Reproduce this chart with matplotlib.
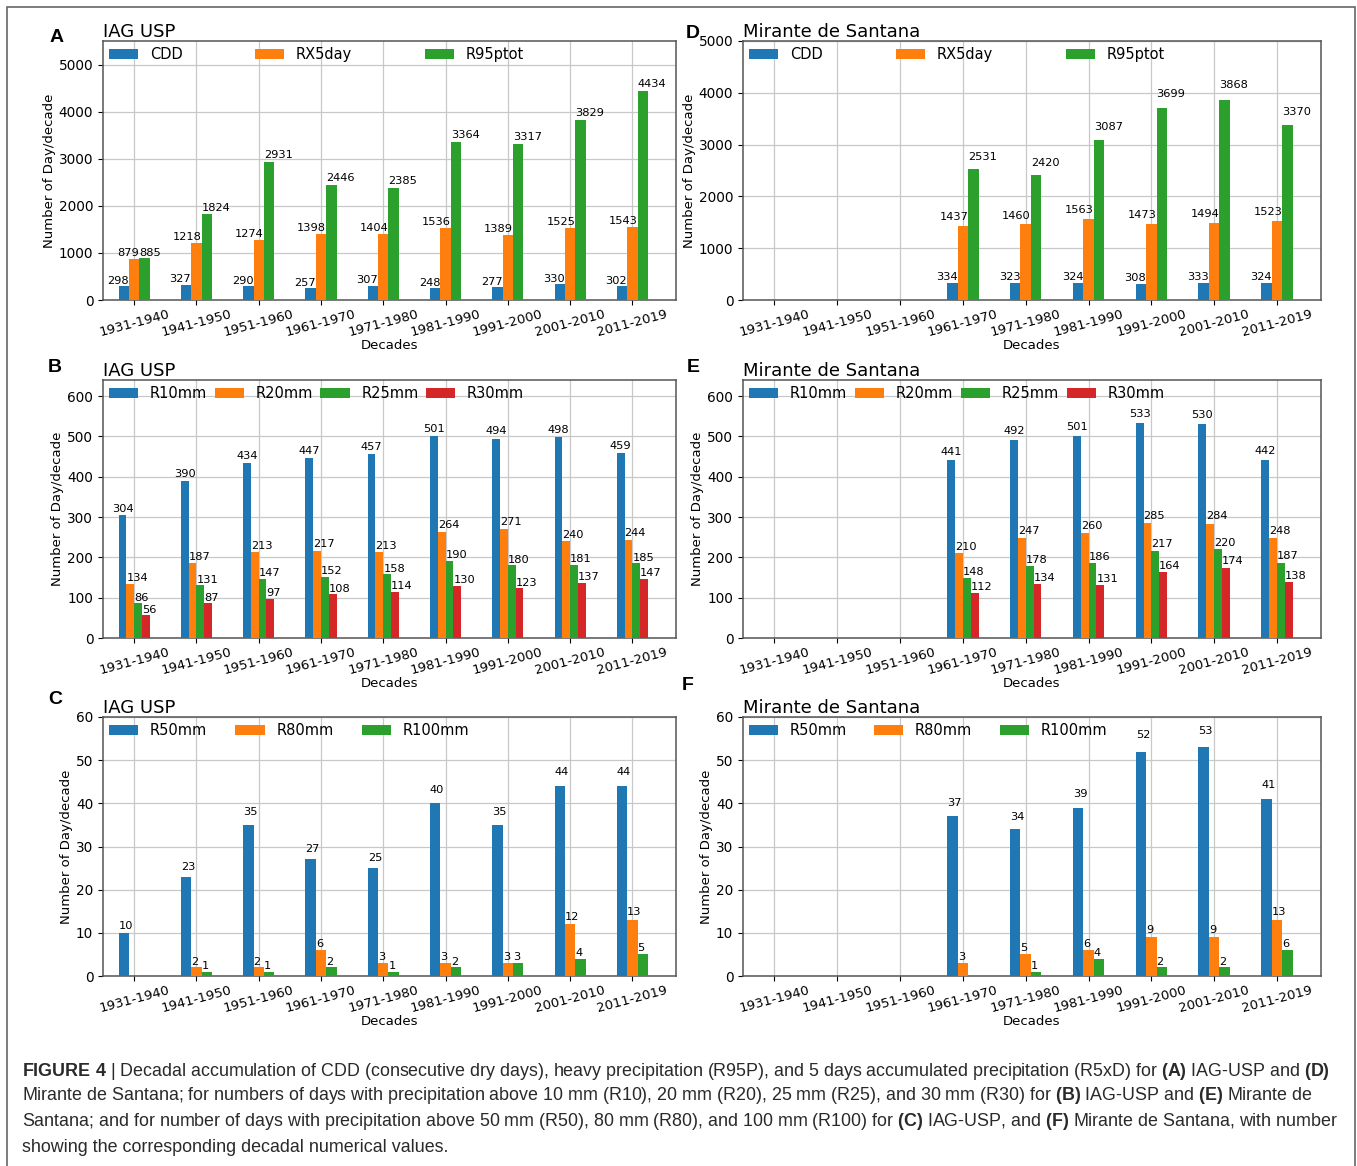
import numpy as np
import matplotlib
matplotlib.use("Agg")
import matplotlib.pyplot as plt
from matplotlib.patches import Rectangle

nan = np.nan

decades = ["1931-1940", "1941-1950", "1951-1960", "1961-1970", "1971-1980",
           "1981-1990", "1991-2000", "2001-2010", "2011-2019"]

# A - IAG USP
iag_cdd = [298, 327, 290, 257, 307, 248, 277, 330, 302]
iag_rx5day = [879, 1218, 1274, 1398, 1404, 1536, 1389, 1525, 1543]
iag_r95ptot = [885, 1824, 2931, 2446, 2385, 3364, 3317, 3829, 4434]

# B - IAG USP
iag_r10 = [304, 390, 434, 447, 457, 501, 494, 498, 459]
iag_r20 = [134, 187, 213, 217, 213, 264, 271, 240, 244]
iag_r25 = [86, 131, 147, 152, 158, 190, 180, 181, 185]
iag_r30 = [56, 87, 97, 108, 114, 130, 123, 137, 147]

# C - IAG USP
iag_r50 = [10, 23, 35, 27, 25, 40, 35, 44, 44]
iag_r80 = [nan, 2, 2, 6, 3, 3, 3, 12, 13]
iag_r100 = [nan, 1, 1, 2, 1, 2, 3, 4, 5]

# D - Mirante de Santana
ms_cdd = [nan, nan, nan, 334, 323, 324, 308, 333, 324]
ms_rx5day = [nan, nan, nan, 1437, 1460, 1563, 1473, 1494, 1523]
ms_r95ptot = [nan, nan, nan, 2531, 2420, 3087, 3699, 3868, 3370]

# E - Mirante de Santana
ms_r10 = [nan, nan, nan, 441, 492, 501, 533, 530, 442]
ms_r20 = [nan, nan, nan, 210, 247, 260, 285, 284, 248]
ms_r25 = [nan, nan, nan, 148, 178, 186, 217, 220, 187]
ms_r30 = [nan, nan, nan, 112, 134, 131, 164, 174, 138]

# F - Mirante de Santana
ms_r50 = [nan, nan, nan, 37, 34, 39, 52, 53, 41]
ms_r80 = [nan, nan, nan, 3, 5, 6, 9, 9, 13]
ms_r100 = [nan, nan, nan, nan, 1, 4, 2, 2, 6]

COLORS = ["#1f77b4", "#ff7f0e", "#2ca02c", "#d62728"]

W, H = 1357, 1166
fig = plt.figure(figsize=(W / 100, H / 100), dpi=100)


def px_axes(left, top, right, bottom):
    return fig.add_axes([left / W, 1 - bottom / H, (right - left) / W, (bottom - top) / H])


def bar_panel(ax, series, names, title, ylim, yticks, label_mode, yfac, leg_width):
    n = len(series)
    width = 0.5 / n
    x = np.arange(len(decades))
    for i, (vals, name) in enumerate(zip(series, names)):
        vals = np.array(vals, dtype=float)
        pos = x - 0.25 + width * (i + 0.5)
        bars = ax.bar(pos, np.nan_to_num(vals), width, color=COLORS[i], label=name, zorder=3)
        mode = label_mode[i]
        for b, v in zip(bars, vals):
            if np.isnan(v):
                continue
            if mode == "right":
                tx, ha = b.get_x() + b.get_width(), "right"
            elif mode == "center":
                tx, ha = b.get_x() + b.get_width() / 2, "center"
            else:
                tx, ha = b.get_x(), "left"
            ax.text(tx, v * yfac, f"{int(v)}", ha=ha, va="bottom", fontsize=8.2, zorder=4)
    ax.set_xlim(-0.5, len(decades) - 0.3)
    ax.set_ylim(*ylim)
    ax.set_yticks(yticks)
    ax.set_xticks(x)
    ax.set_xticklabels(decades, rotation=15, fontsize=9.5)
    ax.tick_params(axis="y", labelsize=9.8)
    ax.tick_params(axis="x", pad=2)
    ax.grid(True, color="#c8c8c8", linewidth=0.9, zorder=0)
    ax.set_axisbelow(True)
    for s in ax.spines.values():
        s.set_color("#555555")
        s.set_linewidth(1.1)
    ax.set_xlabel("Decades", fontsize=9.5, labelpad=0)
    ax.set_ylabel("Number of Day/decade", fontsize=9.5, labelpad=2)
    ax.set_title(title, loc="left", fontsize=13, pad=3)
    ax.legend(loc="upper left", bbox_to_anchor=(0.0, 1.0, leg_width, 0.0), mode="expand",
              ncol=n, frameon=False, fontsize=10.5, borderaxespad=0.0,
              handlelength=2.0, handletextpad=0.8)


names_a = ["CDD", "RX5day", "R95ptot"]
names_b = ["R10mm", "R20mm", "R25mm", "R30mm"]
names_c = ["R50mm", "R80mm", "R100mm"]

ax_a = px_axes(103, 41, 676, 300)
bar_panel(ax_a, [iag_cdd, iag_rx5day, iag_r95ptot], names_a, "IAG USP",
          (0, 5500), range(0, 5001, 1000), ["right", "right", "left"], 1.012, 0.745)
ax_b = px_axes(103, 380, 676, 638)
bar_panel(ax_b, [iag_r10, iag_r20, iag_r25, iag_r30], names_b, "IAG USP",
          (0, 640), range(0, 601, 100), ["center", "left", "left", "left"], 1.012, 0.745)
ax_c = px_axes(103, 717, 676, 976)
bar_panel(ax_c, [iag_r50, iag_r80, iag_r100], names_c, "IAG USP",
          (0, 60), range(0, 61, 10), ["left", "left", "left"], 1.05, 0.65)

ax_d = px_axes(743, 41, 1321, 300)
bar_panel(ax_d, [ms_cdd, ms_rx5day, ms_r95ptot], names_a, "Mirante de Santana",
          (0, 5000), range(0, 5001, 1000), ["right", "right", "left"], 1.05, 0.74)
ax_e = px_axes(743, 380, 1321, 638)
bar_panel(ax_e, [ms_r10, ms_r20, ms_r25, ms_r30], names_b, "Mirante de Santana",
          (0, 640), range(0, 601, 100), ["center", "left", "left", "left"], 1.02, 0.74)
ax_f = px_axes(743, 717, 1321, 976)
bar_panel(ax_f, [ms_r50, ms_r80, ms_r100], names_c, "Mirante de Santana",
          (0, 60), range(0, 61, 10), ["left", "left", "left"], 1.05, 0.64)

# panel letters
for letter, (lx, ly) in {"A": (57, 38), "B": (55, 368), "C": (55, 700),
                         "D": (693, 34), "E": (693, 368), "F": (688, 686)}.items():
    fig.text(lx / W, 1 - ly / H, letter, fontsize=14, fontweight="bold",
             family="Liberation Sans", ha="center", va="center")

# outer frame
fig.add_artist(Rectangle((7 / W, -0.01), (1355 - 7) / W, 1.01 - 7 / H, transform=fig.transFigure,
                         fill=False, edgecolor="#666666", linewidth=1.2))

# caption
plt.rcParams["mathtext.fontset"] = "custom"
plt.rcParams["mathtext.bf"] = "Liberation Sans:bold"
plt.rcParams["mathtext.rm"] = "Liberation Sans"
cap_family = "Liberation Sans"
cap_lines = [
    r"$\mathbf{FIGURE\ 4}$ | Decadal accumulation of CDD (consecutive dry days), heavy precipitation (R95P), "
    r"and 5 days accumulated precipitation (R5xD) for $\mathbf{(A)}$ IAG-USP and $\mathbf{(D)}$",
    r"Mirante de Santana; for numbers of days with precipitation above 10 mm (R10), 20 mm (R20), 25 mm (R25), "
    r"and 30 mm (R30) for $\mathbf{(B)}$ IAG-USP and $\mathbf{(E)}$ Mirante de",
    r"Santana; and for number of days with precipitation above 50 mm (R50), 80 mm (R80), and 100 mm (R100) "
    r"for $\mathbf{(C)}$ IAG-USP, and $\mathbf{(F)}$ Mirante de Santana, with number",
    "showing the corresponding decadal numerical values.",
]
cap_y = [1071, 1096, 1121, 1147]
cap_right = [1333, 1313, 1338]

renderer = fig.canvas.get_renderer()
sizes = []
for line, right in zip(cap_lines[:3], cap_right):
    probe = fig.text(22 / W, 0.5, line, fontsize=12, family=cap_family)
    wpx = probe.get_window_extent(renderer).width
    probe.remove()
    sizes.append(12 * (right - 22) / wpx)
cap_size = min(sizes)

for line, yy in zip(cap_lines, cap_y):
    fig.text(22 / W, 1 - yy / H, line, fontsize=cap_size, family=cap_family,
             color="#2a2a2a", ha="left", va="center")

fig.savefig("out.png", dpi=100)
